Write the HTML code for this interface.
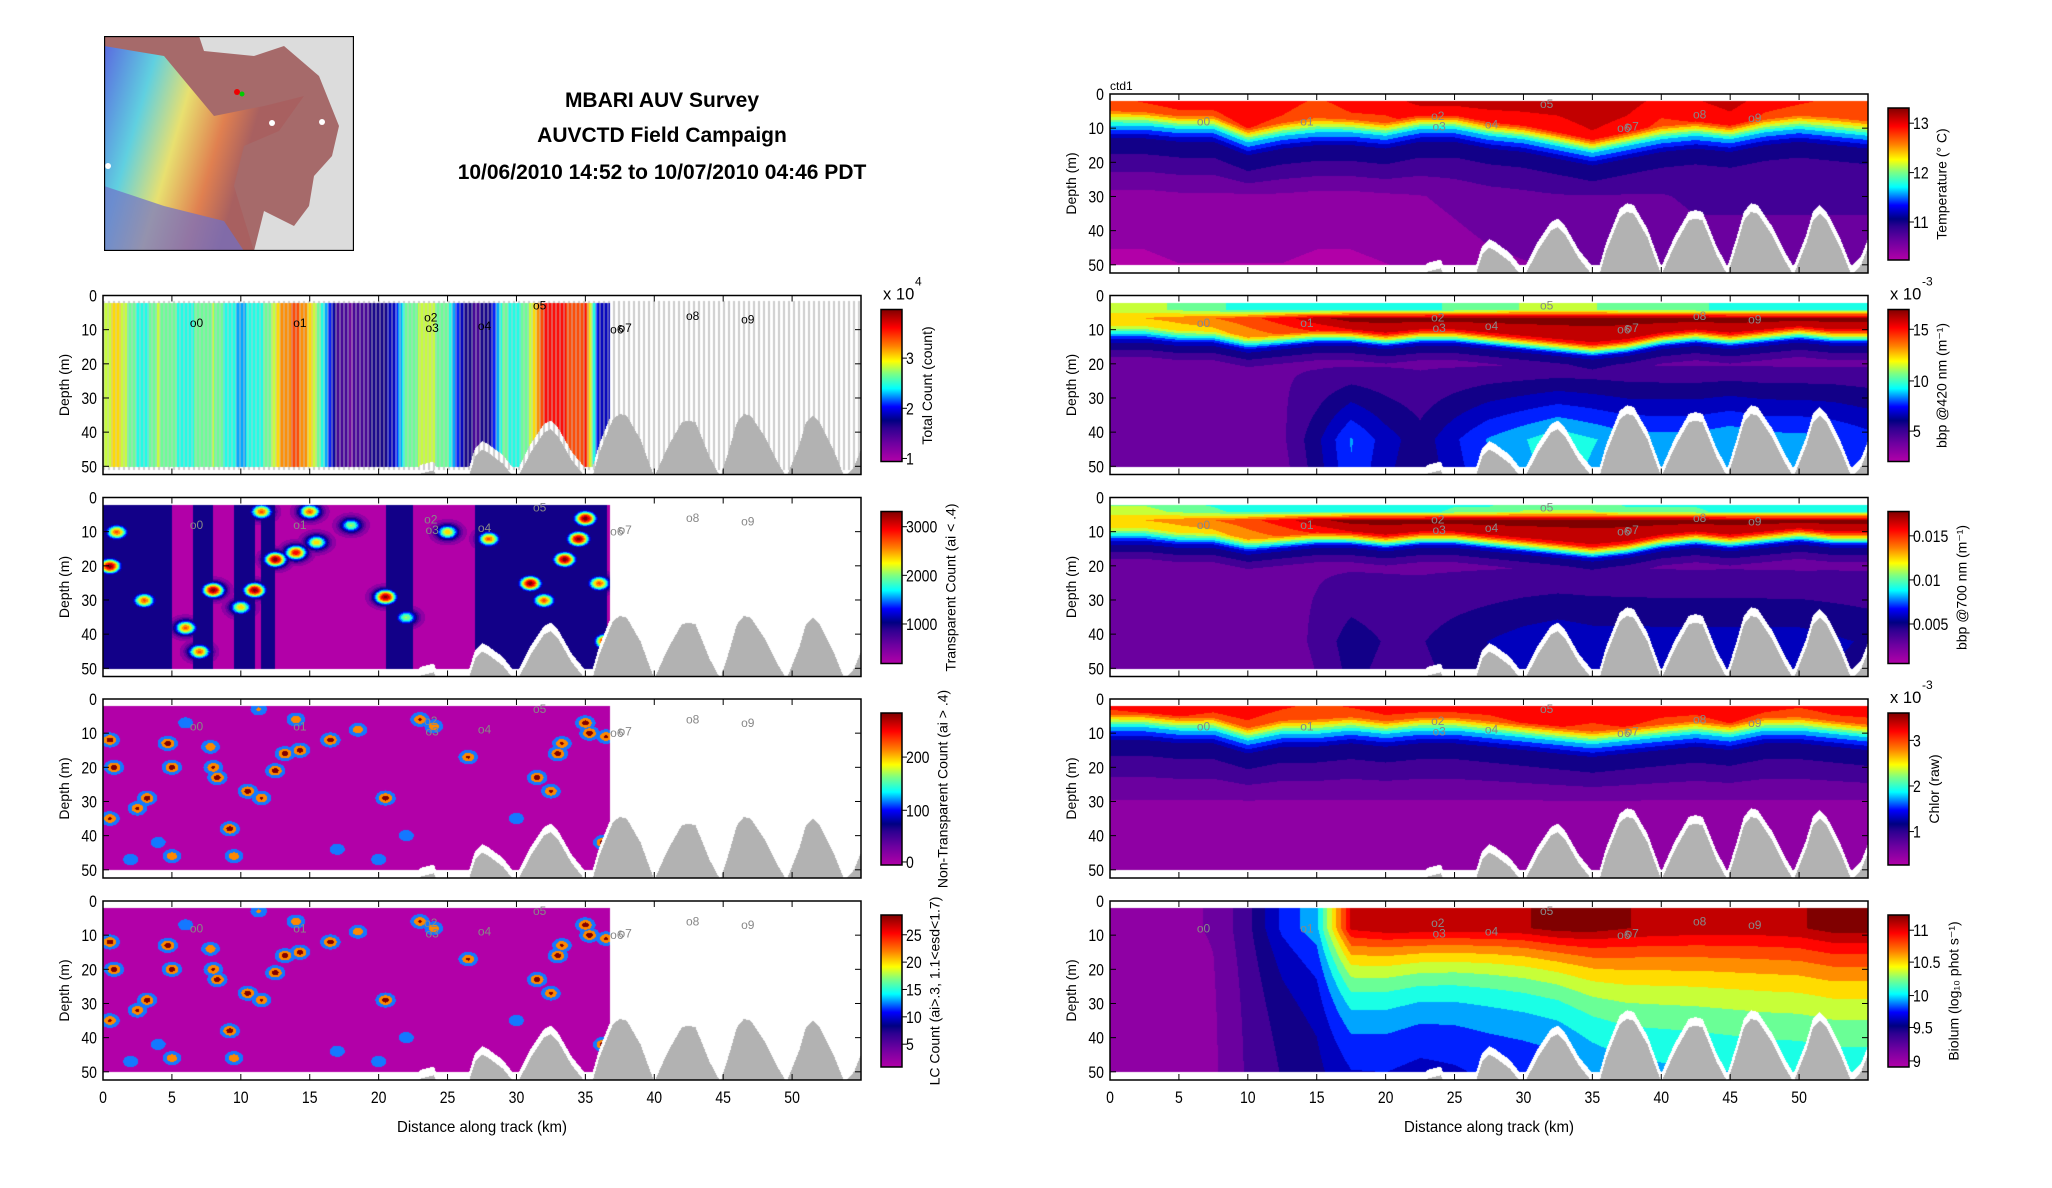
<!DOCTYPE html>
<html><head><meta charset="utf-8">
<style>
html,body{margin:0;padding:0;background:#fff;}
body{width:2052px;height:1188px;position:relative;overflow:hidden;font-family:"Liberation Sans",sans-serif;}
canvas{position:absolute;}
#ov{position:absolute;left:0;top:0;}
.t{font-family:"Liberation Sans Narrow","Liberation Sans",sans-serif;}
</style></head>
<body>
<svg id="map" style="position:absolute;left:104px;top:36px" width="250" height="215" viewBox="0 0 250 215">
<defs>
<linearGradient id="mg" x1="0" y1="0" x2="1" y2="0.3">
<stop offset="0" stop-color="#5a6ae0"/><stop offset="0.25" stop-color="#60d0e0"/><stop offset="0.45" stop-color="#e8e070"/><stop offset="0.65" stop-color="#e08050"/><stop offset="0.8" stop-color="#a86060"/></linearGradient>
</defs>
<rect x="0" y="0" width="250" height="215" fill="#dcdcdc"/>
<path d="M0,0 L95,0 L100,15 L150,20 L180,10 L215,40 L235,90 L228,120 L210,140 L205,170 L190,190 L160,175 L150,215 L0,215 Z" fill="#a66a6a"/>
<path d="M0,10 L60,20 L110,80 L160,70 L200,60 L175,95 L140,110 L130,150 L150,215 L0,215 Z" fill="url(#mg)"/>
<path d="M0,150 L60,170 L120,185 L140,215 L0,215 Z" fill="#7070c8" opacity="0.7"/>
<circle cx="168" cy="87" r="3" fill="#fff"/><circle cx="4" cy="130" r="3" fill="#fff"/><circle cx="218" cy="86" r="3" fill="#fff"/><circle cx="133" cy="56" r="3" fill="#e00"/><circle cx="138" cy="58" r="2.5" fill="#0c0"/>
<rect x="0.5" y="0.5" width="249" height="214" fill="none" stroke="#000" stroke-width="1.3"/>
</svg>
<svg id="ov" width="2052" height="1188"></svg>
<script>
// ---------- data arrays ----------
const K25=[0,2.5,5,7.5,10,12.5,15,17.5,20,22.5,25,27.5,30,32.5,35,37.5,40,42.5,45,47.5,50,52.5,55];
const BATHY_KM=[22,23,24,25,26,27,27.5,28,29,30,31,32,32.5,33,34,35,35.5,36,37,37.5,38,39,40,41,42,42.5,43,44,44.8,45.5,46,46.5,47,48,49,49.6,50.5,51,51.5,52,53,53.8,54.5,55];
const BATHY_M=[60,52,51,60,60,47,45,46,49,54,46,40,39,41,48,53,53,46,36,34.5,35,42,53,44,37,36.5,37,47,53,44,37,34.5,35,41,49,53,44,37,35,37,45,53,50,45];
const TEMP_ML=[9,9,10,10,14,12,11,11,12,10,10,12,13,15,17,15,13,12,13,11,10,11,12];
const TEMP_SURF=[0.85,0.88,0.9,0.9,0.92,0.9,0.85,0.9,0.9,0.95,0.95,0.95,0.95,0.95,0.97,0.95,0.9,0.92,0.95,0.9,0.88,0.85,0.85];
const TEMP_DEEP=[0.02,0.02,0.03,0.03,0.03,0.03,0.02,0.02,0.03,0.04,0.06,0.08,0.09,0.1,0.1,0.1,0.1,0.12,0.12,0.12,0.12,0.12,0.12];
const CHL_ML=[8,8,9,9,12,10,10,9,10,9,9,10,11,12,13,12,11,10,11,9,9,10,11];
const CHL_SURF=[0.9,0.92,0.92,0.9,0.9,0.88,0.85,0.88,0.9,0.9,0.9,0.9,0.92,0.92,0.9,0.92,0.9,0.9,0.92,0.9,0.88,0.9,0.9];
const BB4_SURF=[0.62,0.62,0.58,0.55,0.5,0.5,0.5,0.5,0.5,0.5,0.55,0.55,0.6,0.6,0.6,0.55,0.55,0.55,0.5,0.5,0.5,0.5,0.5];
const BB4_BAND=[0.72,0.72,0.75,0.78,0.82,0.88,0.95,1,1,1,1,1,1,1,1,1,1,1,1,1,1,1,1];
const BB4_ML=[9,9,10,10,12,11,10,10,11,10,10,11,12,13,14,13,11,10,11,10,9,10,10];
const BB4_DEEP=[0,0,0,0,0.03,0.03,0.15,0.3,0.2,0.13,0.22,0.3,0.35,0.4,0.36,0.32,0.32,0.32,0.35,0.32,0.32,0.3,0.26];
const BB7_DEEP=[0,0,0,0,0,0,0.06,0.14,0.1,0.1,0.14,0.17,0.2,0.22,0.2,0.2,0.2,0.2,0.2,0.2,0.2,0.18,0.16];
const BIO_SURF=[0.05,0.05,0.08,0.1,0.2,0.36,0.45,0.92,0.95,0.95,0.95,0.95,0.96,1,1,0.97,0.96,0.95,0.95,0.95,0.96,1,1];
const BIO_BASE=[0.03,0.03,0.05,0.08,0.16,0.2,0.22,0.24,0.26,0.26,0.28,0.3,0.3,0.3,0.32,0.34,0.34,0.34,0.34,0.34,0.34,0.34,0.34];
const BIO_L=[20,20,20,20,22,22,24,22,20,18,17,17,18,19,22,24,25,26,27,28,28,28,28];
const LP1_KM=[0,1,2,3,4,5,6,7,8,9,10,11,12,13,14,15,16,17,18,19,20,21,22,23,24,25,26,27,28,29,30,31,32,33,34,35,36];
const LP1_VAL=[0.6,0.7,0.55,0.5,0.6,0.55,0.5,0.55,0.6,0.5,0.45,0.5,0.55,0.75,0.8,0.7,0.5,0.2,0.15,0.2,0.25,0.3,0.55,0.6,0.6,0.55,0.3,0.2,0.25,0.55,0.5,0.6,0.85,0.9,0.8,0.85,0.3];
const NAVY_SPANS=[[0,5],[6.5,8],[9.5,11],[11.5,12.5],[20.5,22.5],[27,36.6]];
const LP2_SPOTS=[[0.5,20,1],[1,10,0.8],[3,30,0.8],[6,38,0.8],[7,45,0.8],[8,27,1],[10,32,0.7],[11,27,1],[11.5,4,0.8],[12.5,18,1],[14,16,0.9],[15,4,0.8],[15.5,13,0.7],[18,8,0.6],[20.5,29,1],[22,35,0.6],[25,10,0.7],[28,12,0.8],[31,25,1],[32,30,0.8],[33.5,18,1],[34.5,12,1],[35,6,1],[36,25,0.8],[36.5,42,1]];
const LC_SPOTS=[[0.5,12,1],[0.8,20,1],[0.5,35,0.9],[2.5,32,0.9],[3.2,29,1],[4.7,13,1],[5,20,1],[5,46,0.8],[6,7,0.5],[7.8,14,0.8],[8,20,0.9],[8.3,23,1],[9.2,38,1],[9.5,46,0.8],[10.5,27,1],[11.3,3,0.6],[11.5,29,0.9],[12.5,21,1],[13.2,16,1],[14,6,0.8],[14.3,15,1],[16.5,12,1],[18.5,9,0.8],[20.5,29,1],[22,40,0.5],[23,6,0.9],[24,8,0.8],[26.5,17,0.9],[30,35,0.5],[31.5,23,1],[32.5,27,0.9],[33,16,1],[33.3,13,0.9],[35,7,1],[35.3,10,1],[36.3,42,1],[36.5,11,0.9],[17,44,0.5],[2,47,0.5],[20,47,0.5],[4,42,0.5]];
const STATIONS=["0","1","2","3","4","5","6","7","8","9"];
const ST_KM=[6.3,13.8,23.3,23.4,27.2,31.2,36.8,37.4,42.3,46.3];
const ST_D=[8,8,6.5,9.5,9,3,10,9.5,6,7];
const X_TICKS=[0,5,10,15,20,25,30,35,40,45,50];
const Y_TICKS=[0,10,20,30,40,50];

// ---------- layout ----------
const XMAX=55, YMAX=52.4, W=758, H=179;
const LX=103, RX=1110;
const TOPS=[94,295.5,497.5,699,901];
function interp(xs,ys,x){if(x<=xs[0])return ys[0];for(let i=1;i<xs.length;i++){if(x<=xs[i]){const t=(x-xs[i-1])/(xs[i]-xs[i-1]);return ys[i-1]+t*(ys[i]-ys[i-1]);}}return ys[ys.length-1];}
const STOPS=[[0,[178,0,168]],[0.12,[110,0,160]],[0.22,[45,0,145]],[0.27,[0,0,130]],[0.36,[0,0,255]],[0.48,[0,255,255]],[0.58,[128,255,128]],[0.66,[255,255,0]],[0.76,[255,128,0]],[0.88,[255,0,0]],[1,[128,0,0]]];
function cmap(v){v=Math.max(0,Math.min(1,v));for(let i=1;i<STOPS.length;i++){if(v<=STOPS[i][0]){const a=STOPS[i-1],b=STOPS[i];const t=(v-a[0])/(b[0]-a[0]);return [0,1,2].map(j=>Math.round(a[1][j]+t*(b[1][j]-a[1][j])));}}return STOPS[STOPS.length-1][1];}
function q(v,n){return Math.round(v*n)/n;}
function bathy(km){return interp(BATHY_KM,BATHY_M,km);}
function kv(arr,km){return interp(K25,arr,km);}
function prof(d,ml,surf,deep){return interp([0,ml-4,ml,ml+4,ml+10,30,50],[surf,surf*0.92,0.48,0.28,0.2,deep+0.05,deep],d);}
const fields={
 temp:(km,d)=>prof(d,kv(TEMP_ML,km),kv(TEMP_SURF,km),kv(TEMP_DEEP,km)),
 chl:(km,d)=>prof(d,kv(CHL_ML,km),kv(CHL_SURF,km),0.04),
 bb4:(km,d)=>{const ml=kv(BB4_ML,km),b=kv(BB4_BAND,km);let v=interp([0,4,6.5,ml,ml+4,ml+9,50],[kv(BB4_SURF,km),kv(BB4_SURF,km),b,b*0.9,0.3,0.15,0.1],d);return v+kv(BB4_DEEP,km)*Math.max(0,Math.min(1,(d-20)/22));},
 bb7:(km,d)=>{const ml=kv(BB4_ML,km),b=kv(BB4_BAND,km);let v=interp([0,4,6.5,ml,ml+4,ml+9,50],[kv(BB4_SURF,km)*0.9,kv(BB4_SURF,km),b,b*0.9,0.3,0.15,0.1],d);return v+kv(BB7_DEEP,km)*Math.max(0,Math.min(1,(d-20)/22));},
 bio:(km,d)=>{const s=kv(BIO_SURF,km),b=kv(BIO_BASE,km);return b+(s-b)*Math.exp(-Math.max(0,d-8)/kv(BIO_L,km));},
 lp1:(km,d)=>interp(LP1_KM,LP1_VAL,km),
 lp2:(km,d)=>{let v=0;for(const s of NAVY_SPANS){if(km>=s[0]&&km<=s[1])v=0.25;}for(const s of LP2_SPOTS){const r=((km-s[0])/0.8)**2+((d-s[1])/2.2)**2;v=Math.max(v,s[2]*Math.exp(-r));}return v;},
 lc:(km,d)=>{let v=0;for(const s of LC_SPOTS){const r=((km-s[0])/0.6)**2+((d-s[1])/1.8)**2;v=Math.max(v,s[2]*Math.exp(-r));}return v;}
};
function lcColor(v){if(v>0.85)return[128,0,0];if(v>0.55)return[255,136,0];if(v>0.22)return[20,120,255];return[178,0,168];}
function narrowW(s,fs){let w=0;for(const ch of s){w+= (ch==='.'?0.24:0.46)*fs;}return w;}

const panels=[
 {x:LX,y:TOPS[1],f:'lp1',left:true,name:'total-count',cb:'Total Count (count)',ticks:[[0.02,'1'],[0.35,'2'],[0.68,'3']],exp:'4'},
 {x:LX,y:TOPS[2],f:'lp2',left:true,name:'transparent-count',cb:'Transparent Count (ai < .4)',ticks:[[0.26,'1000'],[0.58,'2000'],[0.9,'3000']]},
 {x:LX,y:TOPS[3],f:'lc',left:true,name:'non-transparent-count',cb:'Non-Transparent Count (ai > .4)',ticks:[[0.02,'0'],[0.36,'100'],[0.71,'200']]},
 {x:LX,y:TOPS[4],f:'lc2',left:true,name:'lc-count',cb:'LC Count (ai>.3, 1.1<esd<1.7)',ticks:[[0.15,'5'],[0.33,'10'],[0.51,'15'],[0.69,'20'],[0.87,'25']],xl:true},
 {x:RX,y:TOPS[0],f:'temp',name:'temperature',cb:'Temperature (° C)',ticks:[[0.25,'11'],[0.575,'12'],[0.9,'13']],ctd:true},
 {x:RX,y:TOPS[1],f:'bb4',name:'bbp-420',cb:'bbp @420 nm (m⁻¹)',ticks:[[0.2,'5'],[0.53,'10'],[0.87,'15']],exp:'-3'},
 {x:RX,y:TOPS[2],f:'bb7',name:'bbp-700',cb:'bbp @700 nm (m⁻¹)',ticks:[[0.26,'0.005'],[0.55,'0.01'],[0.84,'0.015']]},
 {x:RX,y:TOPS[3],f:'chl',name:'chlorophyll',cb:'Chlor (raw)',ticks:[[0.22,'1'],[0.52,'2'],[0.82,'3']],exp:'-3'},
 {x:RX,y:TOPS[4],f:'bio',name:'bioluminescence',cb:'Biolum (log₁₀ phot s⁻¹)',ticks:[[0.04,'9'],[0.26,'9.5'],[0.47,'10'],[0.69,'10.5'],[0.9,'11']],xl:true}
];
const ov=document.getElementById('ov');
const NS='http://www.w3.org/2000/svg';
function el(tag,attrs,txt){const e=document.createElementNS(NS,tag);for(const k in attrs)e.setAttribute(k,attrs[k]);if(txt!==undefined)e.textContent=txt;ov.appendChild(e);return e;}
function ntext(attrs,txt,fs){const e=el('text',Object.assign({'font-size':fs,class:'t',textLength:narrowW(txt,fs),lengthAdjust:'spacingAndGlyphs'},attrs),txt);return e;}

for(const p of panels){
 const cv=document.createElement('canvas');cv.width=W;cv.height=H;cv.style.left=p.x+'px';cv.style.top=p.y+'px';
 
 
 document.body.insertBefore(cv,ov);
 const ctx=cv.getContext('2d');const img=ctx.createImageData(W,H);
 for(let py=0;py<H;py++){const d=(py+0.5)/H*YMAX;
  for(let px=0;px<W;px++){const km=(px+0.5)/W*XMAX;let c=[255,255,255];
   const b=bathy(km);
   if(d>=b)c=[178,178,178];
   else{const bot=Math.min(50,b-2.5);
    const inData=d>=2&&d<=bot&&(!p.left||km<36.8);
    if(inData){
     if(p.f==='lc'||p.f==='lc2')c=lcColor(fields.lc(km,d));
     else c=cmap(q(fields[p.f](km,d),16));
     if(p.f==='lp1'&&px%4<2)c=c.map(v=>Math.round(v*0.55+200*0.45));
    } else if(p.f==='lp1'&&d>=1.5&&d<=51&&px%5<2){c=[205,205,205];}
   }
   const i=(py*W+px)*4;img.data[i]=c[0];img.data[i+1]=c[1];img.data[i+2]=c[2];img.data[i+3]=255;}}
 ctx.putImageData(img,0,0);
 const fr=el('rect',{x:p.x,y:p.y,width:W,height:H,fill:'none',stroke:'#000','stroke-width':1.5});
 
 
 for(const t of X_TICKS){const x=p.x+t/XMAX*W;
  el('line',{x1:x,y1:p.y,x2:x,y2:p.y+6,stroke:'#000','stroke-width':1});
  el('line',{x1:x,y1:p.y+H,x2:x,y2:p.y+H-6,stroke:'#000','stroke-width':1});
  if(p.xl){const s=String(t);const tl=ntext({x:x-narrowW(s,17)/2,y:p.y+H+23},s,17);
   
   }
 }
 for(const t of Y_TICKS){const y=p.y+t/YMAX*H;
  el('line',{x1:p.x,y1:y,x2:p.x+6,y2:y,stroke:'#000','stroke-width':1});
  el('line',{x1:p.x+W,y1:y,x2:p.x+W-6,y2:y,stroke:'#000','stroke-width':1});
  const s=String(t);const tl=ntext({x:p.x-6-narrowW(s,17),y:y+6},s,17);
  
  
 }
 const yl=el('text',{x:0,y:0,'font-size':14,'text-anchor':'middle',transform:`translate(${p.x-34},${p.y+H/2}) rotate(-90)`},'Depth (m)');
 
 
 if(p.xl){const s='Distance along track (km)';const xt=el('text',{x:p.x+W/2-85,y:p.y+H+52,'font-size':16,class:'t',textLength:170,lengthAdjust:'spacingAndGlyphs'},s);
  
  }
 for(let i=0;i<STATIONS.length;i++){const sx=p.x+ST_KM[i]/XMAX*W,sy=p.y+ST_D[i]/YMAX*H;
  const st=el('text',{x:sx,y:sy+4,'font-size':12,fill:p.f==='lp1'?'#000':'#888',class:'t'},'o'+STATIONS[i]);
  
  }
 if(p.ctd){const c=el('text',{x:p.x,y:p.y-4,'font-size':12,class:'t'},'ctd1');}
 const cx=p.x+W+20,cy=p.y+14,ch=H-27,cw=21;
 const gid='g'+p.name;const lg=el('linearGradient',{id:gid,x1:0,y1:1,x2:0,y2:0});
 for(const s of STOPS){const st=document.createElementNS(NS,'stop');st.setAttribute('offset',s[0]);st.setAttribute('stop-color',`rgb(${s[1].join(',')})`);lg.appendChild(st);}
 const cbr=el('rect',{x:cx,y:cy,width:cw,height:ch,fill:`url(#${gid})`,stroke:'#000','stroke-width':1.5});
 
 
 let maxw=0;
 for(const t of p.ticks){const y=cy+ch*(1-t[0]);
  el('line',{x1:cx+cw,y1:y,x2:cx+cw+5,y2:y,stroke:'#000'});
  maxw=Math.max(maxw,narrowW(t[1],17));
  const tl=ntext({x:cx+cw+4,y:y+6},t[1],17);
  
  }
 if(p.exp){const e=ntext({x:cx+2,y:p.y+4},'x 10',17);
  const e2=el('text',{x:cx+34,y:p.y-10,'font-size':12,class:'t'},p.exp);}
 const cl=el('text',{x:0,y:0,'font-size':14,'text-anchor':'middle',transform:`translate(${cx+cw+maxw+22},${cy+ch/2}) rotate(-90)`},p.cb);
 
 
}
const titles=['MBARI AUV Survey','AUVCTD Field Campaign','10/06/2010 14:52 to 10/07/2010 04:46 PDT'];
const ty=[107,142,179];
for(let i=0;i<3;i++){const t=el('text',{x:662,y:ty[i],'font-size':21,'font-weight':'bold','text-anchor':'middle',class:'t'},titles[i]);
 
 }
</script>
</body></html>
